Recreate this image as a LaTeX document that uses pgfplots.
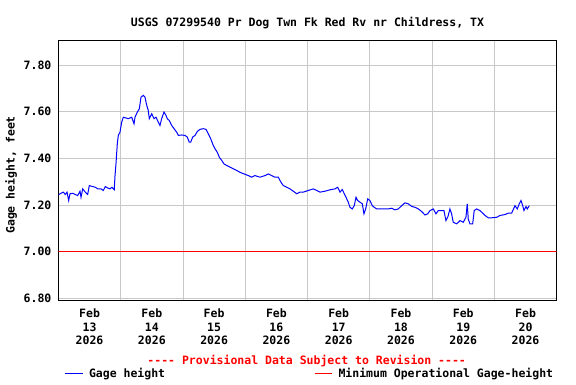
\documentclass[border=0pt]{standalone}
\usepackage{fontspec}
\setmainfont{DejaVu Sans Mono}[Ligatures=TeXOff]
\usepackage{pgfplots}
\pgfplotsset{compat=1.18}
\definecolor{gridgray}{HTML}{C8C8C8}
\definecolor{usgsred}{RGB}{255,0,0}
\definecolor{usgsblue}{RGB}{0,0,255}
\begin{document}
\fontsize{11.5}{13.2}\selectfont\bfseries
\begin{tikzpicture}[x=1pt,y=1pt]
\path[use as bounding box, fill=white] (0,0) rectangle (576,384);
\begin{axis}[
  at={(58.4pt,84pt)}, anchor=south west,
  width=498.3pt, height=260pt, scale only axis,
  xmin=0, xmax=8, ymin=6.7927, ymax=7.907,
  axis line style={line width=1pt, black},
  xtick={0.5,1.5,2.5,3.5,4.5,5.5,6.5,7.5},
  xticklabels={{Feb\\13\\2026},{Feb\\14\\2026},{Feb\\15\\2026},{Feb\\16\\2026},{Feb\\17\\2026},{Feb\\18\\2026},{Feb\\19\\2026},{Feb\\20\\2026}},
  xticklabel style={align=center, font=\fontsize{11.5}{13.3}\selectfont\bfseries, yshift=-5pt},
  minor xtick={1,2,3,4,5,6,7},
  xminorgrids=true,
  ytick={6.8,7.0,7.2,7.4,7.6,7.8},
  ymajorgrids=true,
  grid style={gridgray, line width=0.8pt},
  minor grid style={gridgray, line width=0.8pt},
  major tick length=0pt, minor tick length=0pt,
  /pgf/number format/fixed,
  /pgf/number format/fixed zerofill,
  /pgf/number format/precision=2,
  /pgf/number format/assume math mode=true,
  yticklabel style={font=\fontsize{11.5}{13.2}\selectfont\bfseries, xshift=-3pt},
  ylabel={Gage height, feet},
  ylabel style={at={(rel axis cs:-0.095,0.481)}, anchor=center, font=\fontsize{11.5}{13.2}\selectfont\bfseries},
  clip=true,
]
\addplot[draw=usgsred, line width=1.2pt] coordinates {(0,7.00) (8,7.00)};
\addplot[draw=usgsblue, line width=1pt] table {
x y
0.005 7.245
0.042 7.250
0.079 7.255
0.111 7.245
0.138 7.255
0.165 7.219
0.186 7.248
0.230 7.250
0.271 7.245
0.310 7.240
0.347 7.259
0.363 7.233
0.390 7.269
0.432 7.255
0.470 7.245
0.496 7.283
0.551 7.279
0.592 7.276
0.631 7.269
0.684 7.269
0.721 7.262
0.753 7.279
0.791 7.273
0.828 7.269
0.860 7.276
0.897 7.265
0.909 7.326
0.925 7.378
0.946 7.464
0.962 7.498
0.989 7.512
1.016 7.555
1.042 7.576
1.122 7.570
1.177 7.576
1.214 7.548
1.230 7.576
1.267 7.598
1.299 7.612
1.326 7.662
1.363 7.670
1.390 7.662
1.418 7.627
1.443 7.605
1.459 7.570
1.498 7.591
1.535 7.570
1.567 7.576
1.604 7.555
1.631 7.541
1.658 7.570
1.695 7.598
1.727 7.584
1.748 7.570
1.780 7.562
1.819 7.541
1.856 7.527
1.899 7.512
1.925 7.498
1.979 7.500
2.033 7.498
2.069 7.491
2.101 7.469
2.124 7.469
2.156 7.491
2.193 7.498
2.230 7.515
2.273 7.524
2.326 7.527
2.370 7.524
2.406 7.505
2.445 7.484
2.487 7.455
2.514 7.441
2.551 7.426
2.583 7.405
2.622 7.391
2.659 7.376
2.702 7.369
2.755 7.362
2.808 7.355
2.862 7.348
2.915 7.340
2.980 7.333
3.049 7.326
3.103 7.319
3.156 7.326
3.236 7.319
3.317 7.326
3.370 7.333
3.424 7.326
3.477 7.319
3.530 7.319
3.574 7.297
3.611 7.283
3.665 7.276
3.718 7.269
3.771 7.259
3.826 7.248
3.879 7.255
3.932 7.255
4.012 7.262
4.092 7.269
4.147 7.262
4.200 7.255
4.280 7.259
4.360 7.265
4.441 7.269
4.484 7.276
4.521 7.255
4.558 7.266
4.590 7.248
4.617 7.233
4.654 7.212
4.681 7.190
4.718 7.183
4.750 7.197
4.778 7.233
4.805 7.219
4.842 7.212
4.879 7.205
4.906 7.162
4.933 7.183
4.966 7.226
5.002 7.219
5.039 7.197
5.071 7.190
5.110 7.183
5.190 7.183
5.296 7.183
5.351 7.186
5.404 7.179
5.457 7.183
5.511 7.197
5.564 7.209
5.617 7.205
5.672 7.194
5.725 7.190
5.778 7.183
5.832 7.172
5.885 7.157
5.929 7.162
5.966 7.176
6.019 7.183
6.062 7.162
6.099 7.176
6.153 7.176
6.190 7.176
6.222 7.133
6.254 7.150
6.286 7.183
6.313 7.162
6.339 7.126
6.394 7.119
6.447 7.133
6.500 7.126
6.543 7.147
6.564 7.205
6.580 7.140
6.607 7.119
6.651 7.119
6.676 7.176
6.715 7.183
6.768 7.176
6.812 7.165
6.849 7.155
6.902 7.145
6.956 7.145
7.036 7.147
7.090 7.155
7.170 7.159
7.223 7.165
7.277 7.165
7.330 7.197
7.367 7.183
7.399 7.205
7.427 7.219
7.454 7.197
7.475 7.176
7.507 7.193
7.528 7.183
7.560 7.197
};
\end{axis}
\node[anchor=base] at (307.5,357.4) {USGS 07299540 Pr Dog Twn Fk Red Rv nr Childress, TX};
\node[anchor=base, text=usgsred] at (306.7,20) {---- Provisional Data Subject to Revision ----};
\draw[draw=usgsblue, line width=1.2pt] (65.2,10.3) -- (82.7,10.3);
\node[anchor=base west, inner sep=0pt] at (88.8,6.3) {Gage height};
\draw[draw=usgsred, line width=1.2pt] (314.7,10.3) -- (332.2,10.3);
\node[anchor=base west, inner sep=0pt] at (338.3,6.3) {Minimum Operational Gage-height};
\end{tikzpicture}
\end{document}
